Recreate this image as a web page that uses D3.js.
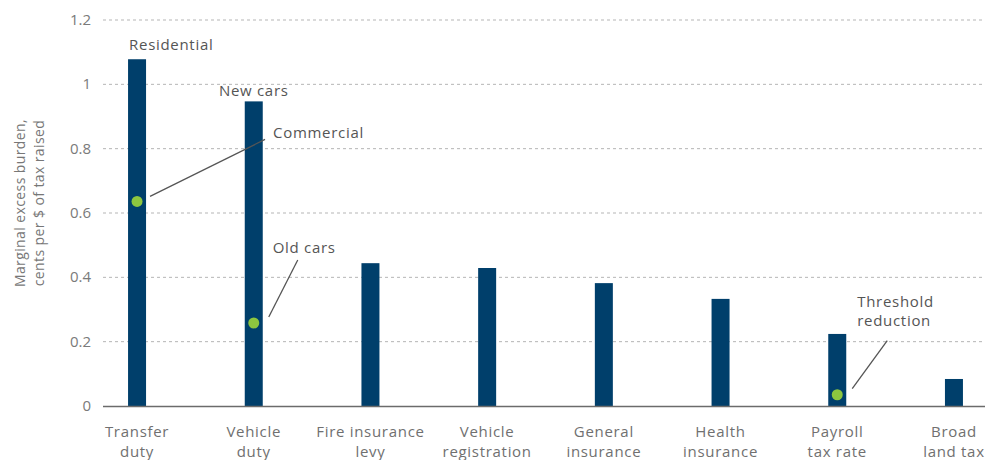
<!DOCTYPE html>
<html><head><meta charset="utf-8">
<script src="https://cdn.jsdelivr.net/npm/d3@7"></script>
<style>
body{margin:0;background:#fff;}
text{font-family:"Open Sans",sans-serif;letter-spacing:0.7px;}
</style></head>
<body><svg id="c" width="997" height="460"></svg>
<script>
const categories = [["Transfer","duty"],["Vehicle","duty"],["Fire insurance","levy"],["Vehicle","registration"],["General","insurance"],["Health","insurance"],["Payroll","tax rate"],["Broad","land tax"]];
const barValues = [1.078, 0.947, 0.444, 0.429, 0.382, 0.333, 0.224, 0.084];
const barLabels = ["Residential","New cars","","","","","",""];
const dotCats = [0, 1, 6];
const dotValues = [0.636, 0.258, 0.035];
const dotLabels = [["Commercial"],["Old cars"],["Threshold","reduction"]];
const yTicks = [0, 0.2, 0.4, 0.6, 0.8, 1, 1.2];
const yTitle = ["Marginal excess burden,","cents per $ of tax raised"];

const svg = d3.select("#c");
const x = d3.scaleBand().domain(d3.range(categories.length)).range([78.7, 1012.3]);
const y = d3.scaleLinear().domain([0, 1.2]).range([406, 20]);
const bw = 18;
const xl = 103, xr = 985;

// gridlines
svg.append("g").selectAll("line").data(yTicks.filter(d=>d>0)).join("line")
  .attr("x1", xl).attr("x2", xr).attr("y1", d=>y(d)).attr("y2", d=>y(d))
  .attr("stroke","#b5b5b5").attr("stroke-width",1).attr("stroke-dasharray","3,3");

// y tick labels
svg.append("g").selectAll("text").data(yTicks).join("text")
  .attr("x", 91).attr("y", d=>y(d)+5).attr("text-anchor","end").style("letter-spacing","0px")
  .attr("font-size",15).attr("fill","#7a7a7a").text(d=>d3.format("")(+d.toFixed(1)));

// y title
const yt = svg.append("text").attr("transform","translate(0,203) rotate(-90)")
  .attr("text-anchor","middle").attr("font-size",14).attr("fill","#777").style("letter-spacing","0.4px");
yTitle.forEach((t,i)=>yt.append("tspan").attr("x",0).attr("y",25+i*19).text(t));

// bars
const cx = i => x(i) + x.bandwidth()/2;
svg.append("g").selectAll("rect").data(barValues).join("rect")
  .attr("x",(d,i)=>cx(i)-bw/2).attr("width",bw)
  .attr("y",d=>y(d)).attr("height",d=>y(0)-y(d)).attr("fill","#003f6b");

// baseline
svg.append("line").attr("x1",xl).attr("x2",xr).attr("y1",y(0)+0.5).attr("y2",y(0)+0.5)
  .attr("stroke","#6b6b6b").attr("stroke-width",1.3);

// x labels
const xlab = svg.append("g").selectAll("text").data(categories).join("text")
  .attr("text-anchor","middle").attr("font-size",15).attr("fill","#707070");
xlab.each(function(d,i){
  const t = d3.select(this);
  d.forEach((s,j)=>t.append("tspan").attr("x",cx(i)).attr("y",437+j*19.5).text(s));
});

// bar top labels
svg.append("text").attr("x",cx(0)-8).attr("y",y(barValues[0])-9).attr("font-size",15).attr("fill","#555").text(barLabels[0]);
svg.append("text").attr("x",cx(1)).attr("y",y(barValues[1])-5).attr("text-anchor","middle").attr("font-size",15).attr("fill","#555").text(barLabels[1]);

// dots
svg.append("g").selectAll("circle").data(dotValues).join("circle")
  .attr("cx",(d,i)=>cx(dotCats[i])).attr("cy",d=>y(d)).attr("r",5.5).attr("fill","#8dc63f");

// leader lines + dot labels
const ann = [
  {l:[13,-5,128,-62], t:[136,-63]},
  {l:[15,-6,44,-63], t:[19,-70]},
  {l:[15,-6,50,-54], t:[20,-88]}
];
ann.forEach((a,i)=>{
  const px = cx(dotCats[i]), py = y(dotValues[i]);
  svg.append("line").attr("x1",px+a.l[0]).attr("y1",py+a.l[1]).attr("x2",px+a.l[2]).attr("y2",py+a.l[3])
    .attr("stroke","#555").attr("stroke-width",1.3);
  const t = svg.append("text").attr("font-size",15).attr("fill","#555");
  dotLabels[i].forEach((s,j)=>t.append("tspan").attr("x",px+a.t[0]).attr("y",py+a.t[1]+j*19).text(s));
});
</script></body></html>
